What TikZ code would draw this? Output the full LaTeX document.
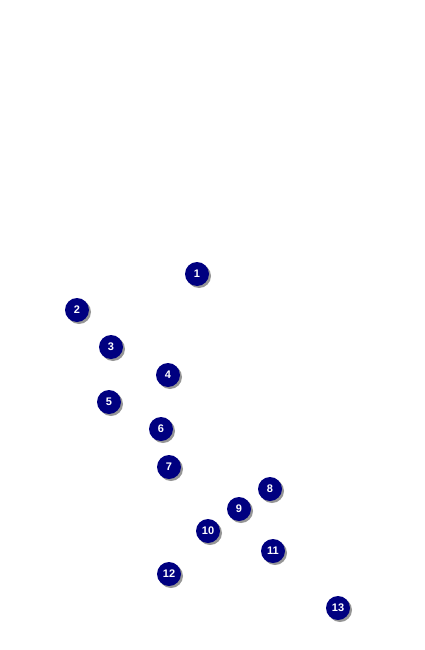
\documentclass[tikz,border=0pt]{standalone}
\usepackage{fontspec}
\setmainfont{Liberation Sans}
\definecolor{navy}{RGB}{0,0,128}
\definecolor{shade}{RGB}{150,150,150}
\begin{document}
\begin{tikzpicture}[x=1pt,y=-1pt,
  badge/.style={circle,fill=navy,minimum size=24pt,inner sep=0pt,text=white,font=\bfseries\fontsize{11}{12}\selectfont,
    preaction={fill=shade,transform canvas={shift={(2pt,-2pt)}}}}]
\useasboundingbox (0,0) rectangle (425,650);
\node[badge] (n1) at (197,274) {1};
\node[badge] (n2) at (77,310) {2};
\node[badge] (n3) at (111,347) {3};
\node[badge] (n4) at (168,375) {4};
\node[badge] (n5) at (109,402) {5};
\node[badge] (n6) at (161,429) {6};
\node[badge] (n7) at (169,467) {7};
\node[badge] (n8) at (270,489) {8};
\node[badge] (n9) at (239,509) {9};
\node[badge] (n10) at (208,531) {10};
\node[badge] (n11) at (273,551) {11};
\node[badge] (n12) at (169,574) {12};
\node[badge] (n13) at (338,608) {13};
\end{tikzpicture}
\end{document}
